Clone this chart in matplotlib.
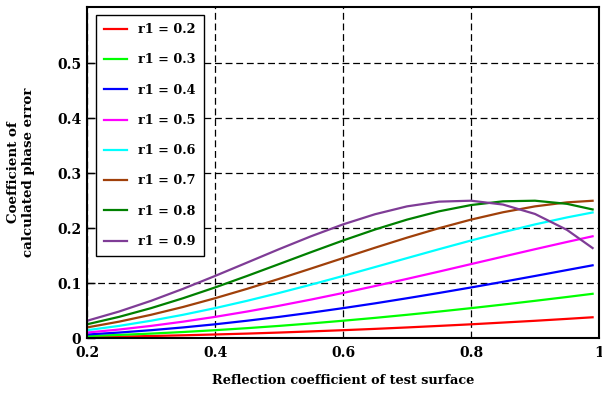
import matplotlib
matplotlib.use("Agg")
import matplotlib.pyplot as plt

# reflection coefficient of test surface (x axis)
x = [0.20, 0.25, 0.30, 0.35, 0.40, 0.45, 0.50, 0.55, 0.60,
     0.65, 0.70, 0.75, 0.80, 0.85, 0.90, 0.95, 0.99]

# coefficient of calculated phase error, one list per r1 value
r1_02 = [0.0016, 0.0025, 0.0036, 0.0049, 0.0064, 0.0080, 0.0099, 0.0120, 0.0142,
         0.0166, 0.0192, 0.0220, 0.0249, 0.0281, 0.0313, 0.0348, 0.0377]
r1_03 = [0.0036, 0.0056, 0.0080, 0.0109, 0.0142, 0.0179, 0.0220, 0.0265, 0.0314,
         0.0366, 0.0422, 0.0481, 0.0543, 0.0608, 0.0676, 0.0746, 0.0804]
r1_04 = [0.0064, 0.0099, 0.0142, 0.0192, 0.0249, 0.0314, 0.0384, 0.0461, 0.0543,
         0.0630, 0.0723, 0.0819, 0.0919, 0.1022, 0.1128, 0.1236, 0.1322]
r1_05 = [0.0099, 0.0154, 0.0220, 0.0297, 0.0384, 0.0481, 0.0586, 0.0699, 0.0819,
         0.0945, 0.1075, 0.1208, 0.1344, 0.1480, 0.1615, 0.1747, 0.1850]
r1_06 = [0.0142, 0.0220, 0.0314, 0.0422, 0.0543, 0.0676, 0.0819, 0.0970, 0.1128,
         0.1290, 0.1453, 0.1615, 0.1773, 0.1924, 0.2066, 0.2193, 0.2283]
r1_07 = [0.0192, 0.0297, 0.0422, 0.0564, 0.0723, 0.0894, 0.1075, 0.1263, 0.1453,
         0.1642, 0.1825, 0.1997, 0.2153, 0.2287, 0.2394, 0.2467, 0.2496]
r1_08 = [0.0249, 0.0384, 0.0543, 0.0723, 0.0919, 0.1128, 0.1344, 0.1561, 0.1773,
         0.1973, 0.2153, 0.2304, 0.2418, 0.2486, 0.2497, 0.2440, 0.2338]
r1_09 = [0.0313, 0.0481, 0.0676, 0.0894, 0.1128, 0.1371, 0.1615, 0.1850, 0.2066,
         0.2251, 0.2394, 0.2480, 0.2497, 0.2427, 0.2256, 0.1966, 0.1636]

series = [r1_02, r1_03, r1_04, r1_05, r1_06, r1_07, r1_08, r1_09]
labels = ["r1 = 0.2", "r1 = 0.3", "r1 = 0.4", "r1 = 0.5",
          "r1 = 0.6", "r1 = 0.7", "r1 = 0.8", "r1 = 0.9"]
colors = ["#ff0000", "#00ff00", "#0000ff", "#ff00ff",
          "#00ffff", "#a0400a", "#008000", "#7f3c96"]

xticks = [0.2, 0.4, 0.6, 0.8, 1.0]
xticklabels = ["0.2", "0.4", "0.6", "0.8", "1"]
yticks = [0, 0.1, 0.2, 0.3, 0.4, 0.5]
yticklabels = ["0", "0.1", "0.2", "0.3", "0.4", "0.5"]

plt.rcParams["font.family"] = "DejaVu Serif"
plt.rcParams["font.weight"] = "bold"

fig = plt.figure(figsize=(6.02, 3.93), dpi=100)
ax = fig.add_axes([87 / 602, 1 - 338 / 393, 512 / 602, 331 / 393])

for vals, lab, col in zip(series, labels, colors):
    ax.plot(x, vals, color=col, lw=1.6, label=lab)

ax.set_xlim(0.2, 1.0)
ax.set_ylim(0, 0.602)
ax.set_xticks(xticks)
ax.set_xticklabels(xticklabels, fontsize=10, fontweight="bold")
ax.set_yticks(yticks)
ax.set_yticklabels(yticklabels, fontsize=10, fontweight="bold")
ax.tick_params(axis="both", direction="in", length=6, width=1, pad=4)
ax.tick_params(axis="x", length=0, pad=6)

ax.grid(True, color="black", lw=0.9, linestyle=(0, (5.5, 3)))
for s in ax.spines.values():
    s.set_linewidth(1.5)

ax.set_xlabel("Reflection coefficient of test surface", fontsize=9.3,
              fontweight="bold", labelpad=10)
ax.set_ylabel("Coefficient of\ncalculated phase error", fontsize=9.6,
              fontweight="bold", labelpad=16)

leg = ax.legend(loc="upper left", bbox_to_anchor=(0.0176, 0.976), fontsize=9.2,
                frameon=True, fancybox=False, framealpha=1, edgecolor="black",
                handlelength=1.75, labelspacing=1.35, borderpad=0.65,
                handletextpad=0.9, borderaxespad=0)
leg.get_frame().set_linewidth(1.0)
for t in leg.get_texts():
    t.set_fontweight("bold")

fig.savefig("out.png", dpi=100)
